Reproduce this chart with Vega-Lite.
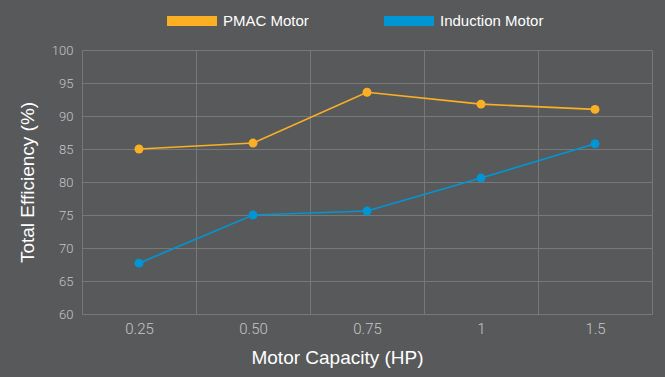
{
  "$schema": "https://vega.github.io/schema/vega-lite/v6.json",
  "autosize": {"type": "none"},
  "width": 570,
  "height": 264,
  "padding": {"left": 82, "top": 50, "right": 13, "bottom": 63},
  "background": "#58595b",
  "config": {
    "view": {"stroke": null},
    "font": "Roboto",
    "axis": {
      "gridColor": "#77787a",
      "gridWidth": 1,
      "domain": false,
      "ticks": false,
      "labelColor": "#c4c5c6",
      "labelFont": "Roboto",
      "labelFontWeight": 300,
      "titleColor": "#ffffff",
      "titleFont": "Liberation Sans",
      "titleFontWeight": "normal",
      "titleFontSize": 19
    }
  },
  "data": {
    "values": [
      {"hp": "0.25", "motor": "PMAC Motor", "eff": 85.0},
      {"hp": "0.50", "motor": "PMAC Motor", "eff": 85.9},
      {"hp": "0.75", "motor": "PMAC Motor", "eff": 93.6},
      {"hp": "1", "motor": "PMAC Motor", "eff": 91.8},
      {"hp": "1.5", "motor": "PMAC Motor", "eff": 91.0},
      {"hp": "0.25", "motor": "Induction Motor", "eff": 67.7},
      {"hp": "0.50", "motor": "Induction Motor", "eff": 75.0},
      {"hp": "0.75", "motor": "Induction Motor", "eff": 75.6},
      {"hp": "1", "motor": "Induction Motor", "eff": 80.6},
      {"hp": "1.5", "motor": "Induction Motor", "eff": 85.8}
    ]
  },
  "encoding": {
    "x": {
      "field": "hp",
      "type": "ordinal",
      "sort": null,
      "scale": {"paddingInner": 0, "paddingOuter": 0},
      "axis": {
        "title": "Motor Capacity (HP)",
        "labelAngle": 0,
        "labelFontSize": 15,
        "labelPadding": 7,
        "titlePadding": 12,
        "titleX": 255,
        "tickBand": "extent",
        "grid": true
      }
    },
    "y": {
      "field": "eff",
      "type": "quantitative",
      "scale": {"domain": [60, 100], "nice": false, "zero": false},
      "axis": {
        "title": "Total Efficiency (%)",
        "values": [60, 65, 70, 75, 80, 85, 90, 95, 100],
        "labelFontSize": 13,
        "labelPadding": 9,
        "titlePadding": 14
      }
    },
    "color": {
      "field": "motor",
      "type": "nominal",
      "scale": {"domain": ["PMAC Motor", "Induction Motor"], "range": ["#fbb023", "#0096d6"]},
      "legend": {
        "title": null,
        "orient": "none",
        "direction": "horizontal",
        "legendX": 80,
        "legendY": -59,
        "symbolType": "stroke",
        "symbolSize": 2500,
        "symbolStrokeWidth": 10,
        "symbolOpacity": 1,
        "labelColor": "#ffffff",
        "labelFontSize": 15,
        "labelFont": "Liberation Sans",
        "labelOffset": 1,
        "columnPadding": 55,
        "padding": 0
      }
    }
  },
  "layer": [
    {
      "mark": {"type": "line", "strokeWidth": 1.6}
    },
    {
      "mark": {"type": "point", "filled": true, "size": 80, "opacity": 1}
    }
  ]
}
